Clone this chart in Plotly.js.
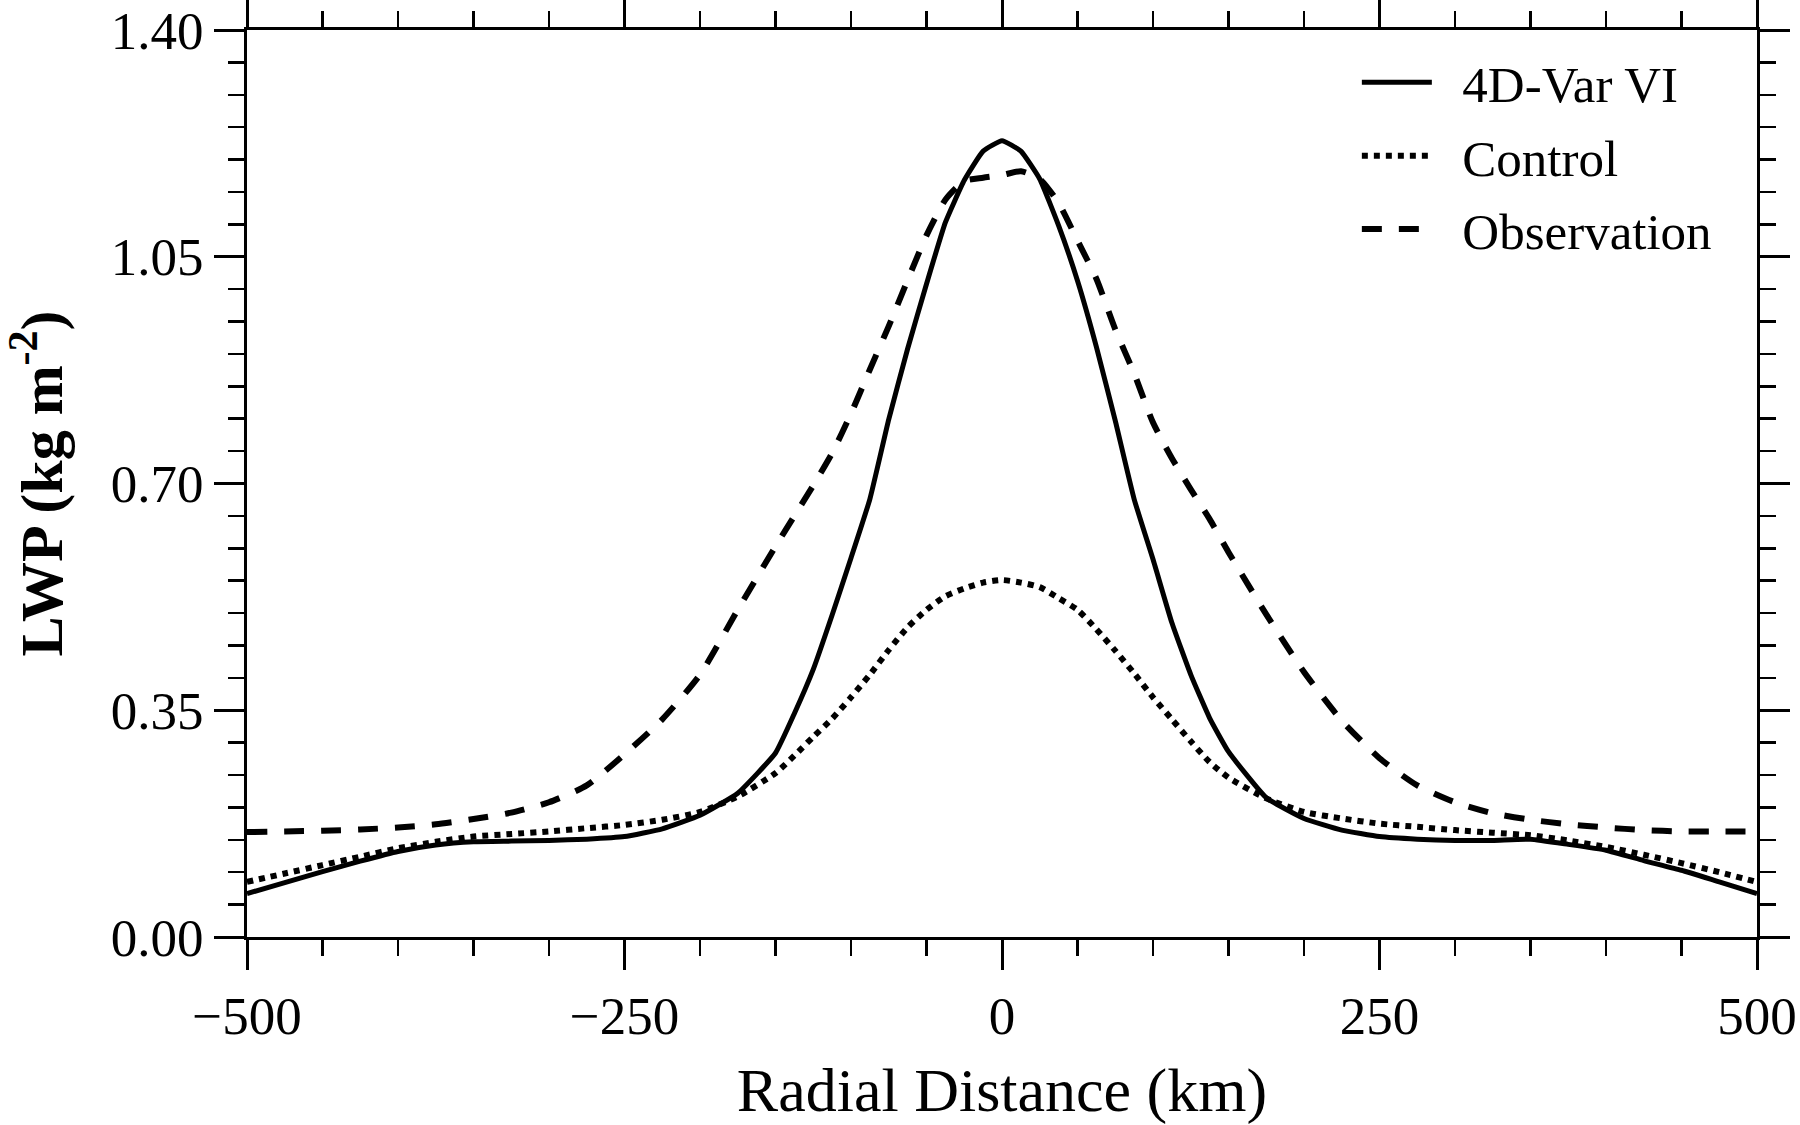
<!DOCTYPE html>
<html>
<head>
<meta charset="utf-8">
<script src="https://cdn.plot.ly/plotly-3.0.1.min.js"></script>
<style>
  html, body { margin: 0; padding: 0; background: #ffffff; }
  #plot { width: 1800px; height: 1125px; }
</style>
</head>
<body>
<div id="plot"></div>
<script>
// radial distance (km) from storm centre
const radialKm = [
  -500, -475, -450, -425, -400, -375, -350, -325, -300, -275, -250, -225, -200, -175, -150,
  -137.5, -125, -112.5, -100, -87.5, -75, -62.5, -50, -37.5, -25, -12.5, 0,
  12.5, 25, 37.5, 50, 62.5, 75, 87.5, 100, 112.5, 125, 137.5,
  150, 175, 200, 225, 250, 275, 300, 325, 350, 375, 400, 425, 450, 475, 500,
];

// LWP (kg m-2)
const lwpVarVI = [
  0.067, 0.084, 0.101, 0.117, 0.132, 0.142, 0.147, 0.148, 0.149, 0.151, 0.155, 0.167, 0.188, 0.222, 0.284,
  0.345, 0.413, 0.497, 0.585, 0.676, 0.799, 0.908, 1.008, 1.103, 1.168, 1.213, 1.229,
  1.213, 1.170, 1.098, 1.013, 0.911, 0.797, 0.676, 0.583, 0.485, 0.405, 0.338,
  0.286, 0.215, 0.183, 0.165, 0.155, 0.151, 0.149, 0.149, 0.151, 0.143, 0.134, 0.118, 0.103, 0.085, 0.067,
];

const lwpControl = [
  0.085, 0.098, 0.111, 0.124, 0.137, 0.147, 0.155, 0.159, 0.163, 0.168, 0.173, 0.181, 0.193, 0.217, 0.253,
  0.280, 0.309, 0.337, 0.370, 0.405, 0.443, 0.478, 0.505, 0.526, 0.538, 0.547, 0.551,
  0.547, 0.540, 0.523, 0.505, 0.475, 0.442, 0.407, 0.370, 0.336, 0.302, 0.270,
  0.246, 0.214, 0.193, 0.183, 0.175, 0.170, 0.165, 0.161, 0.157, 0.149, 0.139, 0.127, 0.114, 0.100, 0.085,
];

const lwpObs = [
  0.162, 0.163, 0.164, 0.166, 0.169, 0.174, 0.182, 0.192, 0.208, 0.234, 0.282, 0.336, 0.405, 0.505, 0.603,
  0.650, 0.697, 0.747, 0.808, 0.876, 0.943, 1.014, 1.083, 1.138, 1.167, 1.172, 1.176,
  1.182, 1.170, 1.133, 1.075, 1.016, 0.938, 0.870, 0.794, 0.739, 0.691, 0.645,
  0.594, 0.498, 0.409, 0.334, 0.276, 0.234, 0.208, 0.191, 0.181, 0.174, 0.169, 0.165, 0.163, 0.163, 0.163,
];

const seriesNames = ["4D-Var VI", "Control", "Observation"];

const FONT = "Liberation Serif, Times New Roman, serif";

function axisBase() {
  return {
    showgrid: false,
    zeroline: false,
    showline: true,
    linecolor: "#000000",
    linewidth: 3,
    mirror: "allticks",
    ticks: "outside",
    ticklen: 30,
    tickwidth: 3,
    tickcolor: "#000000",
    tickfont: { family: FONT, size: 53, color: "#000000" },
  };
}

// the gap between legend line and label in the original is wider than plotly's
const legendLabel = (s) => "\u2002" + s;

const traces = [
  {
    type: "scatter",
    mode: "lines",
    name: legendLabel(seriesNames[0]),
    legendgroup: "a",
    x: radialKm,
    y: lwpVarVI,
    line: { color: "#000000", width: 5, dash: "solid", shape: "spline", smoothing: 0.4 },
  },
  {
    type: "scatter",
    mode: "lines",
    name: legendLabel(seriesNames[1]),
    legendgroup: "b",
    x: radialKm,
    y: lwpControl,
    line: { color: "#000000", width: 6, dash: "6px,6px", shape: "spline", smoothing: 0.6 },
  },
  {
    type: "scatter",
    mode: "lines",
    name: legendLabel(seriesNames[2]),
    legendgroup: "c",
    x: radialKm,
    y: lwpObs,
    line: { color: "#000000", width: 6, dash: "20px,17px", shape: "spline", smoothing: 0.6 },
  },
];

const layout = {
  width: 1800,
  height: 1125,
  paper_bgcolor: "#ffffff",
  plot_bgcolor: "#ffffff",
  font: { family: FONT, color: "#000000" },
  margin: { l: 247, r: 43, t: 30, b: 188 },
  showlegend: true,
  legend: {
    x: 0.735,
    y: 0.986,
    xanchor: "left",
    yanchor: "top",
    bgcolor: "rgba(0,0,0,0)",
    font: { family: FONT, size: 51, color: "#000000" },
    itemwidth: 70,
    traceorder: "grouped",
    tracegroupgap: 4,
  },
  xaxis: {
    ...axisBase(),
    range: [-500, 500],
    tick0: 0,
    dtick: 250,
    minor: { dtick: 50, ticks: "outside", ticklen: 16, tickwidth: 2.5, tickcolor: "#000000" },
    title: { text: "Radial Distance (km)", font: { family: FONT, size: 62, color: "#000000" }, standoff: 40 },
  },
  yaxis: {
    ...axisBase(),
    range: [0, 1.4],
    tick0: 0,
    dtick: 0.35,
    tickformat: ".2f",
    minor: { dtick: 0.05, ticks: "outside", ticklen: 16, tickwidth: 2.5, tickcolor: "#000000" },
    title: {
      text: "<b>LWP (kg m<sup>-2</sup>)</b>",
      font: { family: FONT, size: 60, color: "#000000" },
      standoff: 52,
    },
  },
};

Plotly.newPlot("plot", traces, layout, { displayModeBar: false, staticPlot: true });
</script>
</body>
</html>
